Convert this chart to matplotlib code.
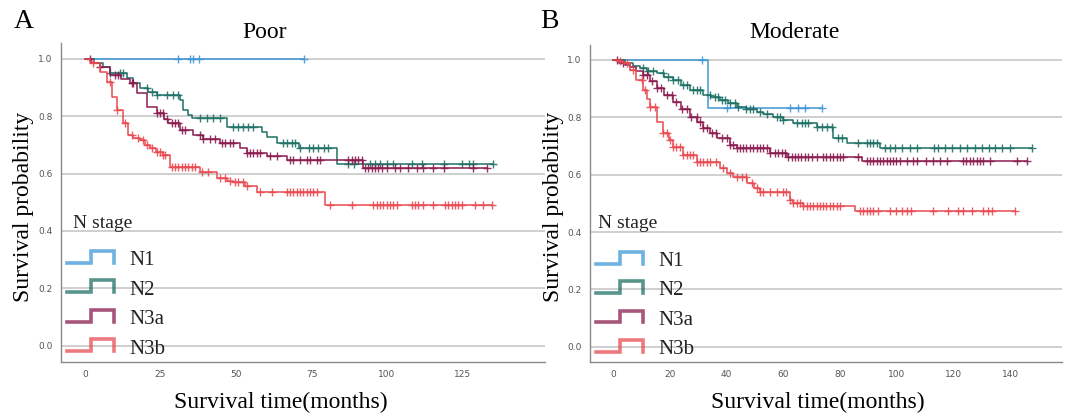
import numpy as np
import matplotlib
matplotlib.use('Agg')
import matplotlib.pyplot as plt
from matplotlib.legend_handler import HandlerBase
from matplotlib.lines import Line2D

# Kaplan-Meier curves by N stage (months, survival)
stages = ['N1', 'N2', 'N3a', 'N3b']
colors = ['#3f97d6', '#1f7166', '#8a1c50', '#e84b52']

# --- Poor ---
poor_n1_time = []
poor_n1_surv = []
poor_n1_cens = [30.7, 34.8, 35.7, 37.7, 72.6]

poor_n2_time = [3, 6, 8.3, 13.8, 16, 18.2, 21, 23.7, 31.5, 32.5, 34, 35.3, 46.9,
                58.5, 60.2, 63.5, 71, 83.3]
poor_n2_surv = [0.985, 0.97, 0.951, 0.932, 0.915, 0.897, 0.885, 0.873, 0.856, 0.821,
                0.805, 0.792, 0.761, 0.745, 0.728, 0.705, 0.688, 0.633]
poor_n2_cens = [8.3, 11.6, 12.7, 20.4, 22.1, 23.7, 27, 29.2, 30.9, 38, 40.3, 42.5,
                44.7, 49.1, 50.8, 52.4, 54.1, 55.7, 65.7, 66.8, 68.4, 69.5, 71.2, 74,
                75.6, 77.3, 79, 80.6, 87.2, 88.9, 94.4, 96.1, 97.7, 99.9, 102.1, 108.2,
                111.5, 118.7, 124.8, 127, 128.6, 135.2]

poor_n3a_time = [2, 5, 8.3, 12, 14.9, 17.1, 20.4, 23.7, 26, 27.6, 31.5, 35.9, 39.2,
                 44.7, 51.3, 53.5, 60.2, 66.8, 92.2]
poor_n3a_surv = [0.986, 0.972, 0.943, 0.93, 0.914, 0.879, 0.833, 0.81, 0.79, 0.775,
                 0.752, 0.734, 0.719, 0.705, 0.688, 0.670, 0.661, 0.647, 0.618]
poor_n3a_cens = [1.7, 5.0, 9.9, 11.0, 15.5, 16.0, 23.7, 24.8, 25.9, 27.0, 28.7, 29.8,
                 30.9, 32.0, 33.1, 38.1, 39.2, 41.4, 43.0, 45.3, 46.4, 48.0, 49.1,
                 53.5, 54.6, 55.7, 56.8, 57.9, 61.3, 63.5, 67.9, 69.0, 71.2, 73.4,
                 74.5, 76.7, 77.8, 87.2, 88.3, 89.4, 90.5, 91.6, 92.7, 93.8, 94.9,
                 96.0, 97.1, 98.2, 99.9, 102.6, 104.3, 107.1, 109.8, 112.0, 115.3,
                 118.7, 128.6, 133.0]

poor_n3b_time = [1.5, 2.8, 5, 7.2, 8.8, 10.5, 12.7, 14.3, 16, 18.2, 20, 21.5, 23.5,
                 25.9, 28.1, 38, 43.6, 47, 49.1, 53, 56.8, 79.5]
poor_n3b_surv = [0.99, 0.984, 0.955, 0.92, 0.868, 0.821, 0.775, 0.734, 0.725, 0.717,
                 0.70, 0.688, 0.675, 0.664, 0.624, 0.606, 0.583, 0.575, 0.571, 0.555,
                 0.537, 0.49]
poor_n3b_cens = [2.8, 8.3, 10.5, 13.2, 15.5, 17.7, 19.3, 20.4, 22.1, 23.7, 24.8, 25.9,
                 26.5, 28.7, 29.8, 30.9, 32.0, 33.1, 34.2, 35.3, 36.4, 38.6, 40.8,
                 44.7, 46.4, 48.0, 49.7, 50.8, 52.4, 53.5, 57.9, 61.8, 66.8, 67.9,
                 69.0, 70.1, 71.2, 72.3, 73.4, 74.5, 75.6, 76.7, 81.1, 88.3, 95.5,
                 96.6, 97.7, 98.8, 99.9, 101.0, 102.1, 103.2, 108.2, 109.3, 110.4,
                 112.0, 115.3, 119.2, 120.3, 121.4, 122.5, 123.6, 124.7, 129.1, 131.9,
                 134.7]

# --- Moderate ---
mod_n1_time = [33.3]
mod_n1_surv = [0.834]
mod_n1_cens = [31.2, 40, 62.4, 65.3, 67.7, 73.5]

mod_n2_time = [4, 7, 9.4, 12, 15.3, 18, 21.2, 24, 27, 31.7, 34.5, 37.6, 40.5, 43.5,
               47, 50.6, 53, 56.4, 60, 63.5, 71.7, 77.6, 82.3, 94.1]
mod_n2_surv = [0.99, 0.98, 0.971, 0.962, 0.954, 0.942, 0.930, 0.912, 0.895, 0.878,
               0.87, 0.861, 0.849, 0.837, 0.828, 0.820, 0.81, 0.802, 0.79, 0.779,
               0.767, 0.727, 0.709, 0.692]
mod_n2_cens = [10.6, 12.3, 14.1, 17.6, 19.4, 21.2, 22.9, 24.7, 25.9, 28.2, 29.4, 30.6,
               34.1, 35.9, 37, 38.2, 39.4, 41.1, 42.9, 44.1, 47, 48.2, 49.4, 51.7,
               54.1, 57.6, 58.8, 60, 64.7, 66.5, 67.7, 68.8, 71.8, 73.5, 75.3, 77,
               79.4, 80.6, 86.5, 89.4, 90.6, 91.8, 93, 95.9, 97.7, 99.4, 101.8, 104.7,
               107.1, 113, 114.7, 117.1, 119.4, 122.4, 124.7, 127.6, 130, 132.4,
               134.7, 137.1, 140, 147.7]

mod_n3a_time = [2, 4, 5.9, 8, 10.6, 13, 15.3, 18, 21.2, 24, 27, 29.5, 31.7, 34, 36.5,
                41.2, 43.5, 55.3, 61.2, 87.6]
mod_n3a_surv = [0.99, 0.983, 0.977, 0.962, 0.948, 0.925, 0.901, 0.878, 0.855, 0.828,
                0.802, 0.782, 0.762, 0.745, 0.727, 0.704, 0.692, 0.677, 0.663, 0.649]
mod_n3a_cens = [1.2, 3.5, 10.6, 11.8, 13.5, 15.3, 17.0, 18.8, 20.6, 22.3, 24.1, 25.9,
                27.6, 29.4, 30.6, 31.7, 32.9, 34.7, 36.4, 38.2, 40.0, 41.2, 42.3,
                43.5, 44.7, 45.9, 47.0, 48.2, 49.4, 50.6, 51.7, 52.9, 54.1, 55.3,
                57.0, 58.2, 59.4, 60.6, 61.7, 62.9, 64.1, 65.3, 66.4, 67.6, 68.8,
                70.0, 71.7, 74.1, 75.2, 76.4, 77.6, 78.8, 80.0, 81.1, 86.4, 89.4,
                90.5, 91.7, 92.9, 94.1, 95.2, 96.4, 97.6, 98.8, 99.9, 101.1, 103.5,
                105.8, 107.0, 110.5, 112.9, 115.2, 117.6, 123.5, 124.6, 125.8, 127.0,
                128.2, 129.3, 130.5, 132.9, 142.3, 145.8]

mod_n3b_time = [2, 3.5, 5.9, 8.2, 10.6, 11.8, 12.9, 15.3, 17.6, 19.5, 21.2, 24.7, 29.4,
                37.6, 40, 42.3, 47.1, 49.5, 51.7, 62.3, 63.4, 67, 85.2]
mod_n3b_surv = [0.995, 0.988, 0.965, 0.930, 0.895, 0.865, 0.837, 0.785, 0.744, 0.72,
                0.698, 0.669, 0.645, 0.622, 0.607, 0.593, 0.570, 0.555, 0.541, 0.512,
                0.500, 0.491, 0.474]
mod_n3b_cens = [2.4, 4.7, 7.1, 10.0, 11.2, 12.9, 14.7, 17.6, 18.8, 20.0, 21.2, 22.3,
                23.5, 24.7, 25.9, 27.0, 28.2, 29.4, 30.6, 31.7, 32.9, 34.1, 36.4,
                38.8, 41.2, 43.5, 45.3, 47.0, 48.8, 50.6, 51.7, 52.9, 55.3, 57.6,
                60.0, 61.1, 62.3, 63.5, 64.7, 65.8, 67.0, 68.2, 69.4, 70.5, 71.7,
                72.9, 74.1, 75.2, 76.4, 77.6, 78.8, 80.0, 87.0, 88.2, 89.4, 90.5,
                91.7, 93.5, 97.6, 99.9, 101.7, 103.5, 105.2, 112.9, 118.2, 121.7,
                123.5, 126.4, 130.5, 132.3, 133.5, 141.7]

poor_ticks = [0, 25, 50, 75, 100, 125]
mod_ticks = [0, 20, 40, 60, 80, 100, 120, 140]
y_ticks = [0.0, 0.2, 0.4, 0.6, 0.8, 1.0]

W, H = 1065, 420
SERIF = 'Liberation Serif'


class StepHandler(HandlerBase):
    # legend key drawn as a small step, like SPSS survival plots
    def create_artists(self, legend, orig_handle, xdescent, ydescent,
                       width, height, fontsize, trans):
        x0 = -xdescent
        x1 = x0 + width
        xm = x0 + width * 0.5
        y0 = -ydescent + height * 0.1
        y1 = -ydescent + height * 1.05
        line = Line2D([x0, xm, xm, x1, x1], [y0, y0, y1, y1, y0],
                      color=orig_handle.get_color(), lw=2.6, alpha=0.75,
                      solid_joinstyle='miter')
        line.set_transform(trans)
        return [line]


def km_step(times, survs, cens):
    end = max(list(times) + list(cens))
    t = np.concatenate([[0.0], times, [end]])
    last = survs[-1] if len(survs) else 1.0
    s = np.concatenate([[1.0], survs, [last]])
    idx = np.searchsorted(t, cens, side='right') - 1
    return t, s, s[idx]


def draw_panel(ax, groups, xticks, xlim, ylim):
    for y in y_ticks:
        ax.axhline(y, color='#cfcfcf', lw=1.4, zorder=0)
    handles = []
    for (times, survs, cens), col, lab in zip(groups, colors, stages):
        t, s, cy = km_step(times, survs, cens)
        ln, = ax.step(t, s, where='post', color=col, lw=1.1, label=lab)
        ax.plot(cens, cy, '+', color=col, ms=6, mew=1.0, alpha=0.9)
        handles.append(ln)
    ax.set_xlim(*xlim)
    ax.set_ylim(*ylim)
    ax.set_xticks(xticks)
    ax.set_yticks(y_ticks)
    ax.set_yticklabels(['%.1f' % v for v in y_ticks])
    ax.tick_params(length=0, labelsize=6.5, labelcolor='#555555', pad=6)
    for side in ['top', 'right']:
        ax.spines[side].set_visible(False)
    for side in ['left', 'bottom']:
        ax.spines[side].set_color('#8a8a8a')
        ax.spines[side].set_linewidth(1.0)
    leg = ax.legend(handles, stages, handler_map={Line2D: StepHandler()},
                    loc='upper left', bbox_to_anchor=(0.013, 0.347),
                    frameon=False, borderpad=0, borderaxespad=0,
                    prop={'family': SERIF, 'size': 15},
                    handlelength=2.25, handleheight=0.55, handletextpad=0.75,
                    labelspacing=0.5)
    for txt in leg.get_texts():
        txt.set_color('#222222')


fig = plt.figure(figsize=(W / 100, H / 100), dpi=100)

ax1 = fig.add_axes([61 / W, 58 / H, 484 / W, 319 / H])
draw_panel(ax1,
           [(poor_n1_time, poor_n1_surv, poor_n1_cens),
            (poor_n2_time, poor_n2_surv, poor_n2_cens),
            (poor_n3a_time, poor_n3a_surv, poor_n3a_cens),
            (poor_n3b_time, poor_n3b_surv, poor_n3b_cens)],
           poor_ticks, (-7.95, 152.3), (-0.057, 1.055))

ax2 = fig.add_axes([590 / W, 58 / H, 472 / W, 317 / H])
draw_panel(ax2,
           [(mod_n1_time, mod_n1_surv, mod_n1_cens),
            (mod_n2_time, mod_n2_surv, mod_n2_cens),
            (mod_n3a_time, mod_n3a_surv, mod_n3a_cens),
            (mod_n3b_time, mod_n3b_surv, mod_n3b_cens)],
           mod_ticks, (-8.2, 158.3), (-0.053, 1.052))


def ftext(x, y, s, ha='center', **kw):
    fig.text(x / W, 1 - y / H, s, family=SERIF, ha=ha, va='center', **kw)


ftext(24, 22, 'A', size=20)
ftext(549, 22, 'B', size=20)
ftext(265, 33, 'Poor', size=17)
ftext(795, 33, 'Moderate', size=17)
ftext(24, 207, 'Survival probability', size=17, rotation=90)
ftext(554, 207, 'Survival probability', size=17, rotation=90)
ftext(281, 402, 'Survival time(months)', size=17)
ftext(818, 402, 'Survival time(months)', size=17)
ftext(73, 224, 'N stage', ha='left', size=14, color='#222222')
ftext(598, 223, 'N stage', ha='left', size=14, color='#222222')

fig.savefig('out.png', dpi=100)
